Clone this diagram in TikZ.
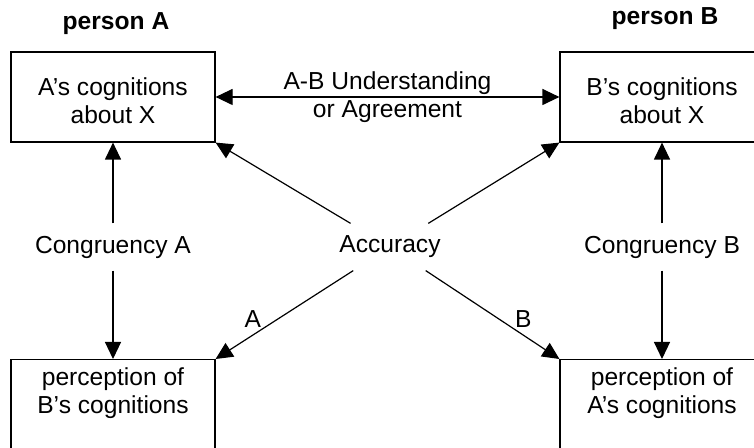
\documentclass[tikz,border=0pt]{standalone}
\usepackage{fontspec}
\setmainfont{Liberation Sans}
\usepackage{tikz}
\usetikzlibrary{arrows.meta}
\usetikzlibrary{positioning}

\begin{document}
\begin{tikzpicture}[->,>={Triangle[length=8.5pt,width=8pt]},line width=0.6pt,auto,
  every node/.style={font=\fontsize{12.3}{14}\selectfont},
  cogbox/.style={draw,rectangle,minimum width=102pt,minimum height=45pt,align=center,text height=26.5pt,text depth=0pt},
  percbox/.style={draw,rectangle,minimum width=102pt,align=center,anchor=north,inner ysep=4pt,text depth=40pt},
  midlabel/.style={inner ysep=6pt}]
\useasboundingbox (0,0) rectangle (377pt,224pt);
\node[cogbox] (boxA) at (56.5pt,175.5pt) {A’s cognitions\\about X};
\node[cogbox] (boxB) at (331pt,175.5pt) {B’s cognitions\\about X};
\node[percbox] (percA) at (56.5pt,44.5pt) {perception of\\B’s cognitions};
\node[percbox] (percB) at (331pt,44.5pt) {perception of\\A’s cognitions};
\node[anchor=base,font=\fontsize{12.3}{14}\selectfont\bfseries] (personA) at (58pt,209pt) {person A};
\node[anchor=base,font=\fontsize{12.3}{14}\selectfont\bfseries] (personB) at (332.5pt,211.5pt) {person B};
\node[midlabel] (congA) at (56.5pt,100.5pt) {Congruency A};
\node[midlabel] (congB) at (331pt,100.5pt) {Congruency B};
\node[midlabel] (acc) at (195pt,100.5pt) {Accuracy};
% agreement between the two persons
\path (boxA) edge [<->] node [swap,align=center,pos=.5,anchor=center] {A-B Understanding\\or Agreement} (boxB) ;
% congruency
\path (congA) edge (boxA) ;
\path (congA) edge (percA) ;
\path (congB) edge (boxB) ;
\path (congB) edge (percB) ;
% accuracy
\path (acc) edge (boxA.south east) ;
\path (acc) edge (boxB.south west) ;
\path (acc) edge node [above,pos=.73] {A} (percA.north east) ;
\path (acc) edge node [above,pos=.73] {B} (percB.north west) ;
\end{tikzpicture}
\end{document}
